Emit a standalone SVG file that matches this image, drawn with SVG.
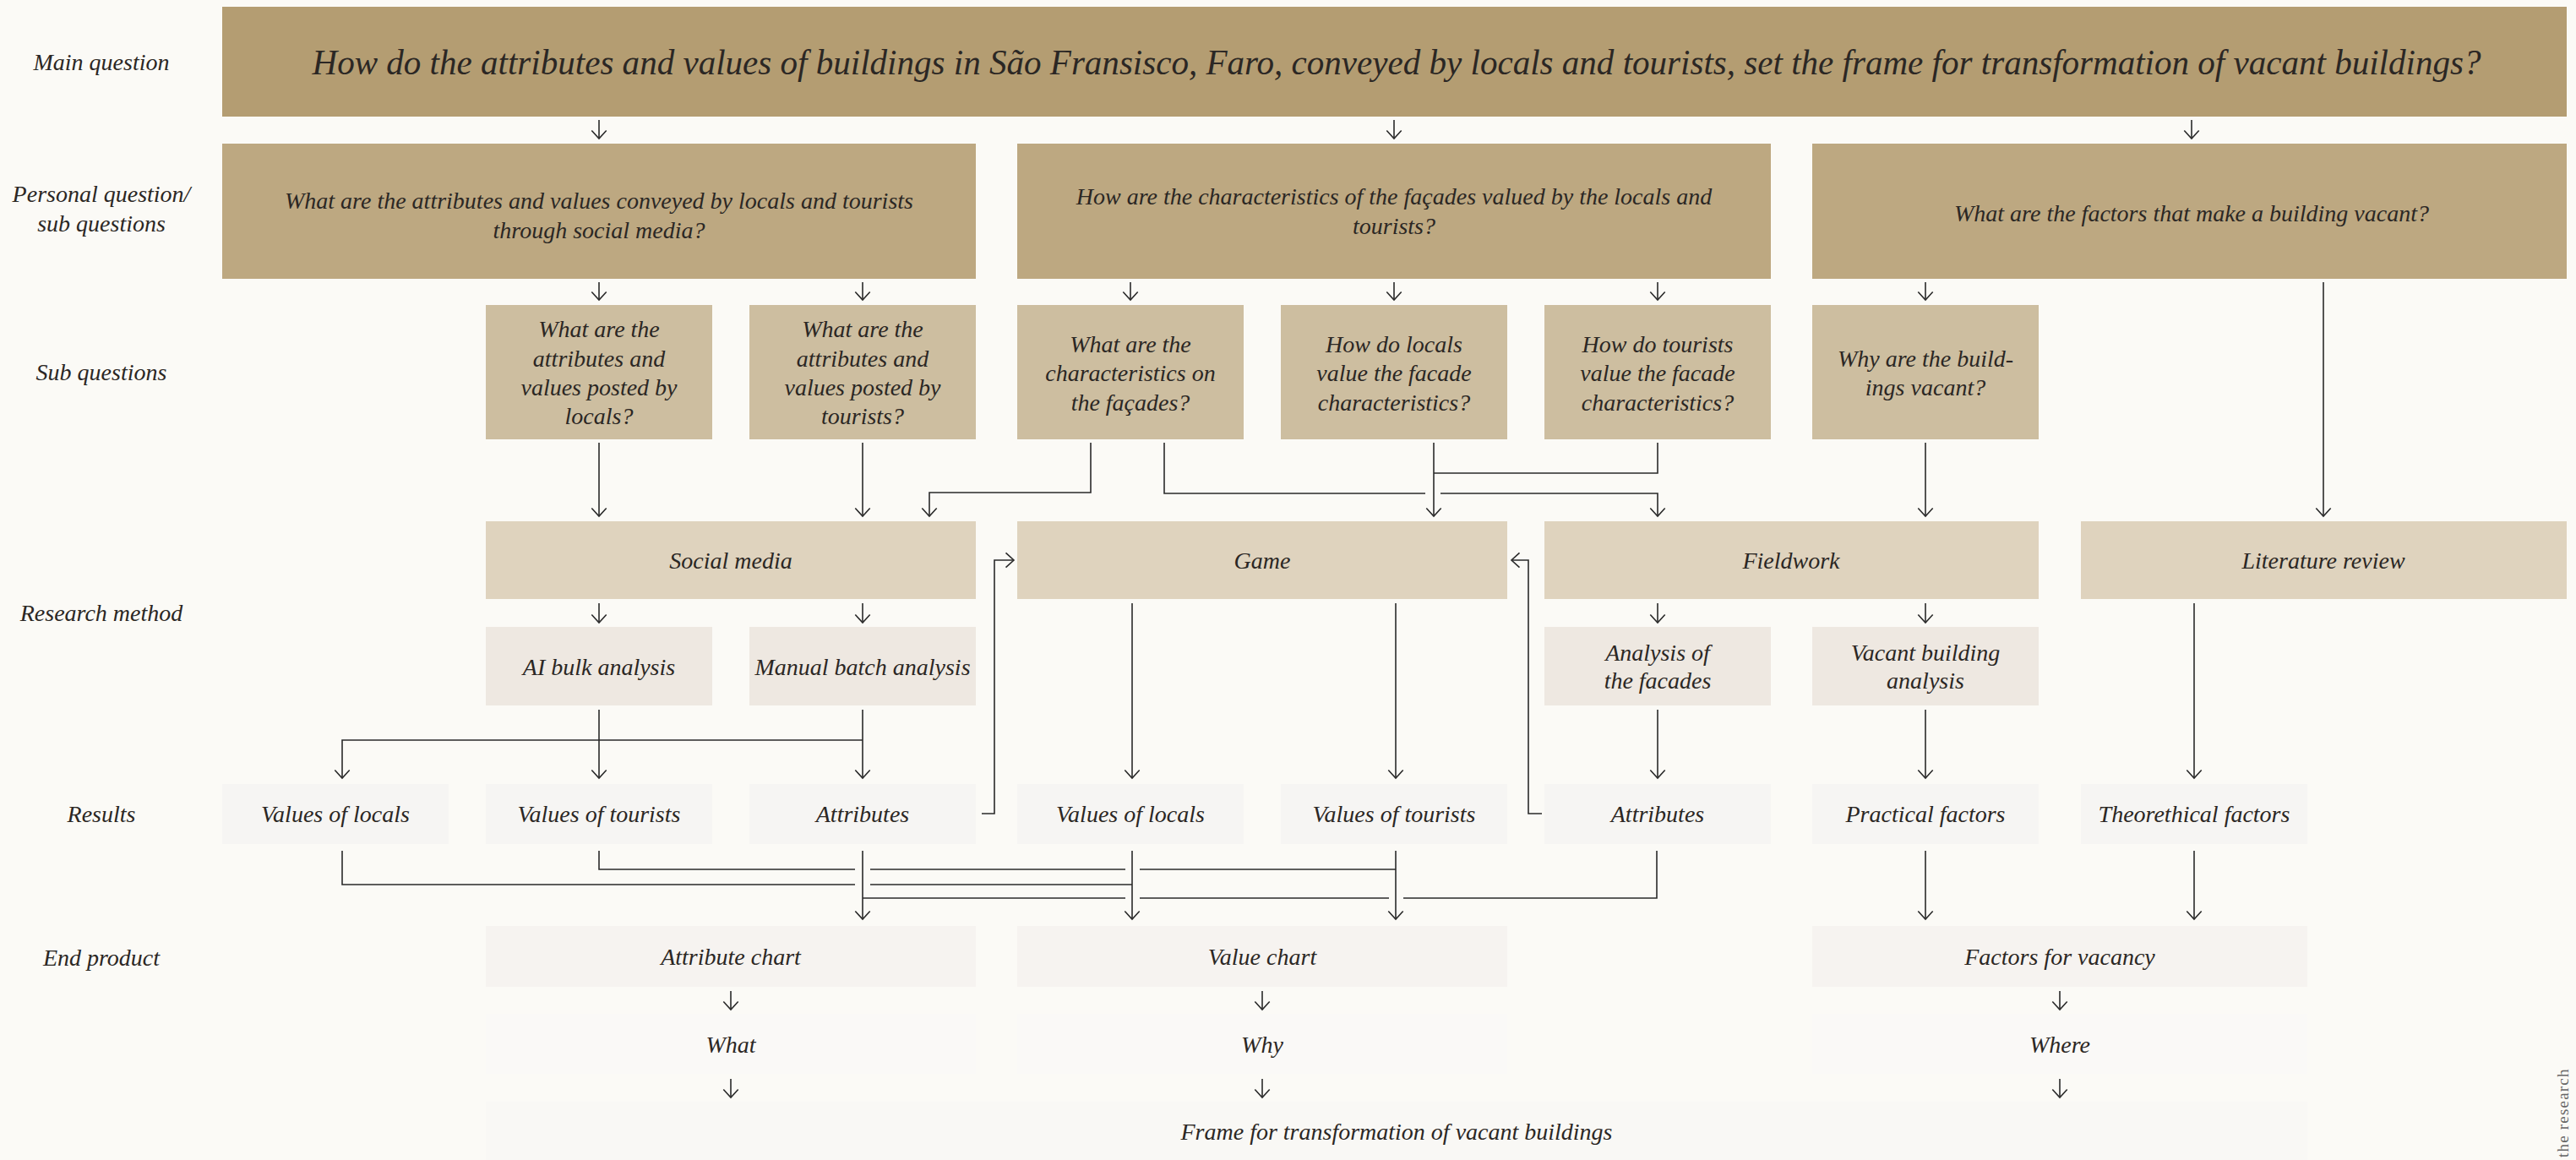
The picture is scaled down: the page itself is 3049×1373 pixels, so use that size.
<svg xmlns="http://www.w3.org/2000/svg" width="3049" height="1373" viewBox="0 0 3049 1373">
<defs>
<style>
text{font-family:"Liberation Serif","Times New Roman",serif;font-style:italic;fill:#2b2724;text-anchor:middle;font-size:28px}
.side{font-size:28px}
.main{font-size:42px}
.c{fill:none;stroke:#2a2a2a;stroke-width:1.6}
.a{fill:none;stroke:#2a2a2a;stroke-width:1.6;marker-end:url(#arr)}
.n0{fill:#b49d72}
.n1{fill:#bda881}
.n2{fill:#cdbea0}
.n3{fill:#dfd3be}
.n4{fill:#eee8e1}
.n5{fill:#f6f5f3}
.n6{fill:#f6f3f0}
.n7{fill:#faf9f7}
.n8{fill:#f9f8f5}
.note{font-family:"Liberation Serif","Times New Roman",serif;font-style:normal;fill:#666;font-size:19px;letter-spacing:1.2px;text-anchor:start}
</style>
<marker id="arr" markerUnits="userSpaceOnUse" markerWidth="24" markerHeight="24" viewBox="-12 -12 24 24" refX="0" refY="0" orient="auto">
<path d="M-9.5,-8.7 L0,0 L-9.5,8.7" fill="none" stroke="#2a2a2a" stroke-width="1.6"/>
</marker>
</defs>
<rect width="3049" height="1373" fill="#fbfaf6"/>

<g id="side-labels">
<text class="side" x="120" y="83">Main question</text>
<text class="side" x="120" y="239">Personal question/</text>
<text class="side" x="120" y="274">sub questions</text>
<text class="side" x="120" y="450">Sub questions</text>
<text class="side" x="120" y="735">Research method</text>
<text class="side" x="120" y="973">Results</text>
<text class="side" x="120" y="1143">End product</text>
</g>

<g id="main-question"><rect class="n0" x="263" y="8" width="2775" height="130"/>
<text class="main" x="1653" y="88" textLength="2567" lengthAdjust="spacingAndGlyphs">How do the attributes and values of buildings in São Fransisco, Faro, conveyed by locals and tourists, set the frame for transformation of vacant buildings?</text></g>

<g id="pq-social"><rect class="n1" x="263" y="170" width="892" height="160"/>
<text x="709" y="247">What are the attributes and values conveyed by locals and tourists</text>
<text x="709" y="282">through social media?</text></g>
<g id="pq-facades"><rect class="n1" x="1204" y="170" width="892" height="160"/>
<text x="1650" y="242">How are the characteristics of the façades valued by the locals and</text>
<text x="1650" y="277">tourists?</text></g>
<g id="pq-vacant"><rect class="n1" x="2145" y="170" width="893" height="160"/>
<text x="2594" y="262">What are the factors that make a building vacant?</text></g>

<g id="sq-locals"><rect class="n2" x="575" y="361" width="268" height="159"/>
<text x="709" y="399">What are the</text><text x="709" y="434">attributes and</text><text x="709" y="468">values posted by</text><text x="709" y="502">locals?</text></g>
<g id="sq-tourists"><rect class="n2" x="887" y="361" width="268" height="159"/>
<text x="1021" y="399">What are the</text><text x="1021" y="434">attributes and</text><text x="1021" y="468">values posted by</text><text x="1021" y="502">tourists?</text></g>
<g id="sq-characteristics"><rect class="n2" x="1204" y="361" width="268" height="159"/>
<text x="1338" y="417">What are the</text><text x="1338" y="451">characteristics on</text><text x="1338" y="486">the façades?</text></g>
<g id="sq-locals-value"><rect class="n2" x="1516" y="361" width="268" height="159"/>
<text x="1650" y="417">How do locals</text><text x="1650" y="451">value the facade</text><text x="1650" y="486">characteristics?</text></g>
<g id="sq-tourists-value"><rect class="n2" x="1828" y="361" width="268" height="159"/>
<text x="1962" y="417">How do tourists</text><text x="1962" y="451">value the facade</text><text x="1962" y="486">characteristics?</text></g>
<g id="sq-why-vacant"><rect class="n2" x="2145" y="361" width="268" height="159"/>
<text x="2279" y="434">Why are the build-</text><text x="2279" y="468">ings vacant?</text></g>

<g id="rm-social"><rect class="n3" x="575" y="617" width="580" height="92"/><text x="865" y="673">Social media</text></g>
<g id="rm-game"><rect class="n3" x="1204" y="617" width="580" height="92"/><text x="1494" y="673">Game</text></g>
<g id="rm-fieldwork"><rect class="n3" x="1828" y="617" width="585" height="92"/><text x="2120" y="673">Fieldwork</text></g>
<g id="rm-literature"><rect class="n3" x="2463" y="617" width="575" height="92"/><text x="2750" y="673">Literature review</text></g>

<g id="sm-ai"><rect class="n4" x="575" y="742" width="268" height="93"/><text x="709" y="799">AI bulk analysis</text></g>
<g id="sm-manual"><rect class="n4" x="887" y="742" width="268" height="93"/><text x="1021" y="799">Manual batch analysis</text></g>
<g id="sm-facades"><rect class="n4" x="1828" y="742" width="268" height="93"/><text x="1962" y="782">Analysis of</text><text x="1962" y="815">the facades</text></g>
<g id="sm-vacant"><rect class="n4" x="2145" y="742" width="268" height="93"/><text x="2279" y="782">Vacant building</text><text x="2279" y="815">analysis</text></g>

<g id="r-values-locals-1"><rect class="n5" x="263" y="928" width="268" height="71"/><text x="397" y="973">Values of locals</text></g>
<g id="r-values-tourists-1"><rect class="n5" x="575" y="928" width="268" height="71"/><text x="709" y="973">Values of tourists</text></g>
<g id="r-attributes-1"><rect class="n5" x="887" y="928" width="268" height="71"/><text x="1021" y="973">Attributes</text></g>
<g id="r-values-locals-2"><rect class="n5" x="1204" y="928" width="268" height="71"/><text x="1338" y="973">Values of locals</text></g>
<g id="r-values-tourists-2"><rect class="n5" x="1516" y="928" width="268" height="71"/><text x="1650" y="973">Values of tourists</text></g>
<g id="r-attributes-2"><rect class="n5" x="1828" y="928" width="268" height="71"/><text x="1962" y="973">Attributes</text></g>
<g id="r-practical"><rect class="n5" x="2145" y="928" width="268" height="71"/><text x="2279" y="973">Practical factors</text></g>
<g id="r-theoretical"><rect class="n5" x="2463" y="928" width="268" height="71"/><text x="2597" y="973">Theorethical factors</text></g>

<g id="ep-attribute"><rect class="n6" x="575" y="1096" width="580" height="72"/><text x="865" y="1142">Attribute chart</text></g>
<g id="ep-value"><rect class="n6" x="1204" y="1096" width="580" height="72"/><text x="1494" y="1142">Value chart</text></g>
<g id="ep-factors"><rect class="n6" x="2145" y="1096" width="586" height="72"/><text x="2438" y="1142">Factors for vacancy</text></g>

<g id="what"><rect class="n7" x="575" y="1200" width="580" height="71"/><text x="865" y="1246">What</text></g>
<g id="why"><rect class="n7" x="1204" y="1200" width="580" height="71"/><text x="1494" y="1246">Why</text></g>
<g id="where"><rect class="n7" x="2145" y="1200" width="586" height="71"/><text x="2438" y="1246">Where</text></g>

<g id="frame"><rect class="n8" x="575" y="1304" width="2156" height="69"/><text x="1653" y="1349">Frame for transformation of vacant buildings</text></g>

<text class="note" transform="translate(3040,1370) rotate(-90)">the research</text>

<g id="connectors">
<line class="a" x1="709" y1="142" x2="709" y2="164"/>
<line class="a" x1="1650" y1="142" x2="1650" y2="164"/>
<line class="a" x1="2594" y1="142" x2="2594" y2="164"/>
<line class="a" x1="709" y1="334" x2="709" y2="355"/>
<line class="a" x1="1021" y1="334" x2="1021" y2="355"/>
<line class="a" x1="1338" y1="334" x2="1338" y2="355"/>
<line class="a" x1="1650" y1="334" x2="1650" y2="355"/>
<line class="a" x1="1962" y1="334" x2="1962" y2="355"/>
<line class="a" x1="2279" y1="334" x2="2279" y2="355"/>
<line class="a" x1="2750" y1="334" x2="2750" y2="611"/>
<line class="a" x1="709" y1="524" x2="709" y2="611"/>
<line class="a" x1="1021" y1="524" x2="1021" y2="611"/>
<polyline class="a" points="1291,524 1291,583 1100,583 1100,611"/>
<polyline class="c" points="1378,524 1378,584 1687,584"/>
<polyline class="a" points="1705,584 1962,584 1962,611"/>
<line class="a" x1="1697" y1="524" x2="1697" y2="611"/>
<polyline class="c" points="1962,524 1962,560 1697,560"/>
<line class="a" x1="2279" y1="524" x2="2279" y2="611"/>
<line class="a" x1="709" y1="714" x2="709" y2="737"/>
<line class="a" x1="1021" y1="714" x2="1021" y2="737"/>
<line class="a" x1="1962" y1="714" x2="1962" y2="737"/>
<line class="a" x1="2279" y1="714" x2="2279" y2="737"/>
<line class="a" x1="709" y1="840" x2="709" y2="921"/>
<line class="a" x1="1021" y1="840" x2="1021" y2="921"/>
<polyline class="a" points="1021,876 405,876 405,921"/>
<line class="a" x1="1340" y1="714" x2="1340" y2="921"/>
<line class="a" x1="1652" y1="714" x2="1652" y2="921"/>
<line class="a" x1="1962" y1="840" x2="1962" y2="921"/>
<line class="a" x1="2279" y1="840" x2="2279" y2="921"/>
<line class="a" x1="2597" y1="714" x2="2597" y2="921"/>
<polyline class="a" points="1162,963 1177,963 1177,663 1200,663"/>
<polyline class="a" points="1825,963 1809,963 1809,663 1789,663"/>
<polyline class="c" points="405,1007 405,1047 1012,1047"/>
<line class="c" x1="1030" y1="1047" x2="1340" y2="1047"/>
<polyline class="c" points="709,1007 709,1029 1012,1029"/>
<line class="c" x1="1030" y1="1029" x2="1332" y2="1029"/>
<line class="c" x1="1349" y1="1029" x2="1652" y2="1029"/>
<polyline class="c" points="1961,1007 1961,1063 1661,1063"/>
<line class="c" x1="1644" y1="1063" x2="1349" y2="1063"/>
<line class="c" x1="1332" y1="1063" x2="1021" y2="1063"/>
<line class="a" x1="1021" y1="1007" x2="1021" y2="1088"/>
<line class="a" x1="1340" y1="1007" x2="1340" y2="1088"/>
<line class="a" x1="1652" y1="1007" x2="1652" y2="1088"/>
<line class="a" x1="2279" y1="1007" x2="2279" y2="1088"/>
<line class="a" x1="2597" y1="1007" x2="2597" y2="1088"/>
<line class="a" x1="865" y1="1173" x2="865" y2="1195"/>
<line class="a" x1="1494" y1="1173" x2="1494" y2="1195"/>
<line class="a" x1="2438" y1="1173" x2="2438" y2="1195"/>
<line class="a" x1="865" y1="1277" x2="865" y2="1299"/>
<line class="a" x1="1494" y1="1277" x2="1494" y2="1299"/>
<line class="a" x1="2438" y1="1277" x2="2438" y2="1299"/>
</g>
</svg>
